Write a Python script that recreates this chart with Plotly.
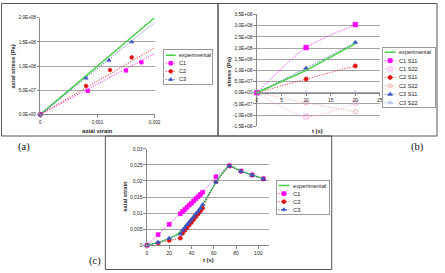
import plotly.graph_objects as go

W, H = 445, 273
def fx(p): return p / W
def fy(p): return 1 - p / H

# ---------------- data: panel (a) ----------------
a_exp_x = [0, 0.002]
a_exp_y = [0, 2.0e8]
a_c1_x = [0, 0.00083, 0.0015, 0.00177]
a_c1_y = [0, 4.9e7, 9.1e7, 1.08e8]
a_c2_x = [0, 0.0008, 0.00122, 0.0016]
a_c2_y = [0, 5.9e7, 9.2e7, 1.18e8]
a_c3_x = [0, 0.0008, 0.0012, 0.0016]
a_c3_y = [0, 7.5e7, 1.12e8, 1.5e8]
a_trend_x = [0, 0.002]
a_c1_trend = [0, 1.26e8]
a_c2_trend = [0, 1.38e8]
a_c3_trend = [0, 1.90e8]
a_xtickvals = [0, 0.001, 0.002]
a_xticktext = ["0", "0,001", "0,002"]
a_ytickvals = [0, 5e7, 1e8, 1.5e8, 2e8]
a_yticktext = ["0,0E+00", "5,0E+07", "1,0E+08", "1,5E+08", "2,0E+08"]

# ---------------- data: panel (b) ----------------
b_t = [0, 10, 20]
b_exp = [0, 1.0e8, 2.2e8]
b_c1_s11 = [0, 2.02e8, 3.05e8]
b_c1_s22 = [0, -1.07e8, -0.45e8]
b_c2_s11 = [0, 0.61e8, 1.2e8]
b_c2_s22 = [0, -0.45e8, -0.85e8]
b_c3_s11 = [0, 1.1e8, 2.25e8]
b_c3_s22 = [0, 0, 0]
b_xtickvals = [0, 5, 10, 15, 20, 25]
b_xticktext = ["0", "5", "10", "15", "20", "25"]
b_ytickvals = [-1.5e8, -1e8, -5e7, 0, 5e7, 1e8, 1.5e8, 2e8, 2.5e8, 3e8, 3.5e8]
b_yticktext = ["-1,5E+08", "-1,0E+08", "-5,0E+07", "0,0E+00", "5,0E+07", "1,0E+08",
               "1,5E+08", "2,0E+08", "2,5E+08", "3,0E+08", "3,5E+08"]

# ---------------- data: panel (c) ----------------
c_exp_t = [0, 10, 20, 30, 40, 50, 62, 74, 84.5, 94.5, 104.5]
c_exp_y = [0, 0.0009, 0.0021, 0.0042, 0.0083, 0.0127, 0.0195, 0.0247, 0.0231, 0.0219, 0.0207]
c_c1_t = [0, 10, 20, 30, 32, 34, 36, 38, 40, 42, 44, 46, 48, 50, 62, 74, 84.5, 94.5, 104.5]
c_c1_y = [0, 0.0033, 0.0065, 0.0098, 0.0105, 0.0111, 0.0118, 0.0125, 0.0131, 0.0138, 0.0145,
          0.0151, 0.0158, 0.0165, 0.0213, 0.0247, 0.0231, 0.0219, 0.0207]
c_c2_t = [0, 10, 20, 30, 32, 34, 36, 38, 40, 42, 44, 46, 48, 50, 62, 74, 84.5, 94.5, 104.5]
c_c2_y = [0, 0.0007, 0.0015, 0.0022, 0.0037, 0.0046, 0.0054, 0.0063, 0.0071, 0.0080, 0.0089,
          0.0097, 0.0106, 0.0115, 0.0197, 0.0247, 0.0230, 0.0218, 0.0206]
c_c3_t = [0, 10, 20, 30, 32, 34, 36, 38, 40, 42, 44, 46, 48, 50, 62, 74, 84.5, 94.5, 104.5]
c_c3_y = [0, 0.0009, 0.0022, 0.0035, 0.0047, 0.0055, 0.0064, 0.0072, 0.0081, 0.0089, 0.0098,
          0.0106, 0.0115, 0.0126, 0.0197, 0.0247, 0.0230, 0.0218, 0.0206]
c_xtickvals = [0, 20, 40, 60, 80, 100]
c_xticktext = ["0", "20", "40", "60", "80", "100"]
c_ytickvals = [0, 0.005, 0.01, 0.015, 0.02, 0.025, 0.03]
c_yticktext = ["0", "0,005", "0,01", "0,015", "0,02", "0,025", "0,03"]

# ---------------- styles ----------------
GREEN = '#46d046'
MAG = '#ff00ff'
RED = '#e01010'
BLUE = '#3a52c8'
PINK = '#ff9ee8'
SALMON = '#eaa0a0'
LAV = '#a8b0e0'
AX = '#888888'
GRID = '#a6a6a6'
FONT = 'Liberation Sans'
DOT = '1px,1.6px'

fig = go.Figure()

def line(x, y, xa, ya, color, width=1.5, dash=None, shape='linear'):
    fig.add_trace(go.Scatter(x=x, y=y, xaxis=xa, yaxis=ya, mode='lines',
                             line=dict(color=color, width=width, dash=dash, shape=shape,
                                       smoothing=0.7), showlegend=False, hoverinfo='skip'))

def marks(x, y, xa, ya, color, symbol, size=4, dotted=False, shape='linear'):
    fig.add_trace(go.Scatter(x=x, y=y, xaxis=xa, yaxis=ya,
                             mode='lines+markers' if dotted else 'markers',
                             line=dict(color=color, width=1, dash=DOT, shape=shape, smoothing=0.7),
                             marker=dict(color=color, symbol=symbol, size=size,
                                         line=dict(color=color, width=0.8)),
                             cliponaxis=False, showlegend=False, hoverinfo='skip'))

# panel (a)
line(a_exp_x, a_exp_y, 'x', 'y', GREEN)
line(a_trend_x, a_c1_trend, 'x', 'y', MAG, 1, DOT)
line(a_trend_x, a_c2_trend, 'x', 'y', RED, 1, DOT)
line(a_trend_x, a_c3_trend, 'x', 'y', BLUE, 1, DOT)
marks(a_c1_x, a_c1_y, 'x', 'y', MAG, 'square', 3.4)
marks(a_c2_x, a_c2_y, 'x', 'y', RED, 'circle', 3.6)
marks(a_c3_x, a_c3_y, 'x', 'y', BLUE, 'triangle-up', 3.6)

# panel (b)
marks(b_t, b_c3_s22, 'x2', 'y2', LAV, 'triangle-up-open', 4, True, 'spline')
marks(b_t, b_c2_s22, 'x2', 'y2', SALMON, 'circle-open', 4.5, True, 'spline')
marks(b_t, b_c1_s22, 'x2', 'y2', PINK, 'square-open', 4.5, True, 'spline')
marks(b_t, b_c2_s11, 'x2', 'y2', RED, 'circle', 4, True, 'spline')
marks(b_t, b_c3_s11, 'x2', 'y2', BLUE, 'triangle-up', 4, True, 'spline')
marks(b_t, b_c1_s11, 'x2', 'y2', MAG, 'square', 4.5, True, 'spline')
line(b_t, b_exp, 'x2', 'y2', GREEN)

# panel (c)
marks(c_c1_t, c_c1_y, 'x3', 'y3', MAG, 'square', 3.8, True)
marks(c_c2_t, c_c2_y, 'x3', 'y3', RED, 'circle', 3.8, True)
line(c_exp_t, c_exp_y, 'x3', 'y3', GREEN, 1.3, None, 'spline')
marks(c_c3_t, c_c3_y, 'x3', 'y3', BLUE, 'triangle-up', 4, True)

# ---------------- legends (drawn in their own small axes) ----------------
legend_a = [('experimental', GREEN, None, None),
            ('C1', MAG, 'square', DOT), ('C2', RED, 'circle', DOT), ('C3', BLUE, 'triangle-up', DOT)]
legend_b = [('experimental', GREEN, None, None),
            ('C1 S11', MAG, 'square', DOT), ('C1 S22', PINK, 'square-open', DOT),
            ('C2 S11', RED, 'circle', DOT), ('C2 S22', SALMON, 'circle-open', DOT),
            ('C3 S11', BLUE, 'triangle-up', DOT), ('C3 S22', LAV, 'triangle-up-open', DOT)]
legend_c = legend_a

annotations = []

def draw_legend(items, xa, ya, fsize, msize):
    for i, (name, color, symbol, dash) in enumerate(items):
        fig.add_trace(go.Scatter(x=[0.03, 0.24], y=[i, i], xaxis=xa, yaxis=ya, mode='lines',
                                 line=dict(color=color, width=1.5 if dash is None else 1, dash=dash),
                                 showlegend=False, hoverinfo='skip'))
        if symbol:
            fig.add_trace(go.Scatter(x=[0.135], y=[i], xaxis=xa, yaxis=ya, mode='markers',
                                     marker=dict(color=color, symbol=symbol, size=msize,
                                                 line=dict(color=color, width=0.8)),
                                     showlegend=False, hoverinfo='skip', cliponaxis=False))
        annotations.append(dict(x=0.27, y=i, xref=xa, yref=ya, text=name, showarrow=False,
                                xanchor='left', yanchor='middle',
                                font=dict(family=FONT, size=fsize, color='#222')))

draw_legend(legend_a, 'x4', 'y4', 5.6, 3.6)
draw_legend(legend_b, 'x5', 'y5', 5.6, 4)
draw_legend(legend_c, 'x6', 'y6', 5.8, 3.8)

# ---------------- layout ----------------
def cart_axis(domain, rng, tv, tt, fsize, grid=False, **kw):
    d = dict(domain=domain, range=rng, tickvals=tv, ticktext=tt, showgrid=grid,
             gridcolor=GRID, gridwidth=1, zeroline=False, showline=True, linecolor=AX,
             linewidth=1, ticks='outside', ticklen=2.5, tickcolor=AX, tickwidth=1,
             tickfont=dict(family=FONT, size=fsize, color='#222'), fixedrange=True)
    d.update(kw)
    return d

def leg_axes(xpx, ypx, c0, step, n):
    xd = [fx(xpx[0]), fx(xpx[1])]
    yd = [fy(ypx[1]), fy(ypx[0])]
    top = (ypx[0] - c0) / step
    bot = (ypx[1] - c0) / step
    common = dict(showgrid=False, zeroline=False, showticklabels=False, ticks='',
                  showline=True, mirror=True, linecolor='#999', linewidth=1, fixedrange=True)
    return dict(domain=xd, range=[0, 1], **common), dict(domain=yd, range=[bot, top], **common)

# panel (b) zero position for the x axis
b_yd = [fy(126), fy(11.7)]
b_yr = [-1.5e8, 3.5e8]
b_zero = b_yd[0] + (0 - b_yr[0]) / (b_yr[1] - b_yr[0]) * (b_yd[1] - b_yd[0])

lx4, ly4 = leg_axes((166, 214), (48, 83), 53.3, 8.3, 4)
lx5, ly5 = leg_axes((388.3, 440.7), (46, 106), 50.3, 8.6, 7)
lx6, ly6 = leg_axes((280.3, 333), (181.7, 216), 186.7, 8.2, 4)
lx4.update(anchor='y4'); ly4.update(anchor='x4')
lx5.update(anchor='y5'); ly5.update(anchor='x5')
lx6.update(anchor='y6'); ly6.update(anchor='x6')

title_font = dict(family=FONT, size=5.8, color='#222', weight='bold')
def ann(x, y, text, angle=0, font=title_font):
    annotations.append(dict(x=fx(x), y=fy(y), xref='paper', yref='paper', text=text,
                            showarrow=False, textangle=angle, xanchor='center', yanchor='middle',
                            font=font))

ann(98, 131, 'axial strain')
ann(12, 65, 'axial stress (Pa)', -90)
ann(322, 131, 't (s)')
ann(232, 70, 'stress (Pa)', -90)
ann(210.5, 263, 't (s)')
ann(126, 198, 'axial strain', -90)
lab_font = dict(family='Liberation Serif', size=10.5, color='#111')
ann(23, 147, '(a)', 0, lab_font)
ann(423, 147, '(b)', 0, lab_font)
ann(95, 264, '(c)', 0, lab_font)

shapes = []
for (x0, y0, x1, y1) in [(0.5, 0.5, 220.5, 136), (220.5, 0.5, 443, 136), (106, 136, 336, 272.5)]:
    shapes.append(dict(type='rect', xref='paper', yref='paper', x0=fx(x0), x1=fx(x1),
                       y0=fy(y1), y1=fy(y0), line=dict(color='#555', width=1)))

fig.update_layout(
    width=W, height=H, margin=dict(l=0, r=0, t=0, b=0),
    paper_bgcolor='white', plot_bgcolor='white', showlegend=False,
    xaxis=cart_axis([fx(40), fx(156)], [0, 0.002], a_xtickvals, a_xticktext, 4.6, anchor='y'),
    yaxis=cart_axis([fy(114), fy(15)], [0, 2.0e8 * 1.001], a_ytickvals, a_yticktext, 4.6, True, anchor='x'),
    xaxis2=cart_axis([fx(260), fx(385)], [0, 25], b_xtickvals, b_xticktext, 4.8,
                     anchor='free', position=b_zero),
    yaxis2=cart_axis(b_yd, [b_yr[0], b_yr[1] * 1.001], b_ytickvals, b_yticktext, 4.8, True, anchor='x2'),
    xaxis3=cart_axis([fx(148.3), fx(272.7)], [0, 110], c_xtickvals, c_xticktext, 5.0, anchor='y3'),
    yaxis3=cart_axis([fy(247.7), fy(149)], [0, 0.03 * 1.001], c_ytickvals, c_yticktext, 5.0, True, anchor='x3'),
    xaxis4=lx4, yaxis4=ly4, xaxis5=lx5, yaxis5=ly5, xaxis6=lx6, yaxis6=ly6,
    annotations=annotations, shapes=shapes,
)

fig.write_html("out.html")
